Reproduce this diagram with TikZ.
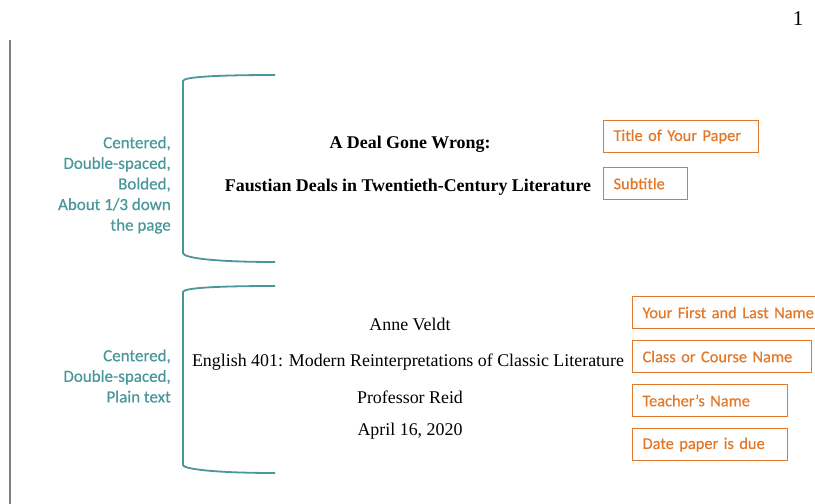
\documentclass[tikz,border=0pt]{standalone}
\usepackage{fontspec}
\setmainfont{Liberation Serif}
\newfontfamily\calfont[FakeBold=0.5]{Carlito}
\definecolor{teal1}{HTML}{4A979B}
\definecolor{orng}{HTML}{E2782A}
\definecolor{gry}{HTML}{7F7F7F}
\tikzset{
  brk/.style={draw=teal1, line width=1.8pt},
  note/.style={font=\calfont\fontsize{17}{20.6}\selectfont, text=teal1, align=right, anchor=east, inner sep=0pt},
  tag/.style={draw=orng, line width=1.1pt, text=orng, font=\calfont\fontsize{16.4}{18}\selectfont, anchor=north west, inner xsep=10pt, inner ysep=0pt, minimum height=32pt, align=left},
  body/.style={font=\fontsize{17.9}{20}\selectfont, inner sep=0pt},
  bbody/.style={font=\fontsize{17.9}{20}\selectfont\bfseries, inner sep=0pt},
}
\begin{document}
\begin{tikzpicture}[x=1pt,y=-1pt]
\useasboundingbox (0,0) rectangle (815,504);
% page margin line
\coordinate (m1) at (10,40);
\coordinate (m2) at (10,504);
\draw[gry, line width=1.6pt] (m1) -- (m2);
% page number
\node[font=\fontsize{21}{24}\selectfont, inner sep=0pt] (pnum) at (798,19) {1};
% brackets
\coordinate (b1s) at (275,75);
\coordinate (b1e) at (275,262);
\draw[brk] (b1s) .. controls (215,75) and (183,77) .. (183,81) -- (183,253) .. controls (183,258) and (215,262) .. (b1e);
\coordinate (b2s) at (275,286);
\coordinate (b2e) at (275,473);
\draw[brk] (b2s) .. controls (215,286) and (183,288) .. (183,292) -- (183,465) .. controls (183,469) and (215,473) .. (b2e);
% left notes
\node[note] (n1) at (171,185) {Centered,\\Double-spaced,\\Bolded,\\About 1/3 down\\the page};
\node[note] (n2) at (171,376) {Centered,\\Double-spaced,\\Plain text};
% title block
\node[bbody] (t1) at (410,144) {A Deal Gone Wrong:};
\node[bbody] (t2) at (408,187) {Faustian Deals in Twentieth-Century Literature};
% author block
\node[body] (a1) at (410,324) {Anne Veldt};
\node[body] (a2) at (408,362) {English 401: Modern Reinterpretations of Classic Literature};
\node[body] (a3) at (410,397) {Professor Reid};
\node[body] (a4) at (410,431) {April 16, 2020};
% orange tags
\node[tag, text width=135pt] (g1) at (603,120) {Title of Your Paper};
\node[tag, text width=64pt] (g2) at (603,167) {Subtitle};
\node[tag, text width=200pt] (g3) at (632,296) {Your First and Last Name};
\node[tag, text width=159pt] (g4) at (632,340) {Class or Course Name};
\node[tag, text width=135pt] (g5) at (632,384) {Teacher’s Name};
\node[tag, text width=135pt] (g6) at (632,428) {Date paper is due};
\end{tikzpicture}
\end{document}
